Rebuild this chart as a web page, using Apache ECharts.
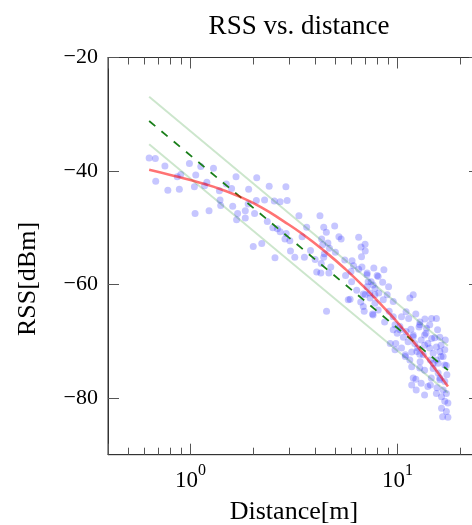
<!DOCTYPE html>
<html><head><meta charset="utf-8">
<script src="https://cdn.jsdelivr.net/npm/echarts@6/dist/echarts.min.js"></script>
<style>html,body{margin:0;padding:0;background:#fff}#c{width:472px;height:525px}</style>
</head><body><div id="c"></div>
<script>
// ---- data ----
const title = 'RSS vs. distance';
const xName = 'Distance[m]';
const yName = 'RSS[dBm]';
const xMin = 0.4, xMax = 25;
const yMin = -90, yMax = -20;
const yTicks = [-80, -60, -40, -20];
const xMinorTicks = [0.5, 0.6, 0.7, 0.8, 0.9, 2, 3, 4, 5, 6, 7, 8, 9, 20];

// measured samples
const distance = [
0.632,0.677,0.753,0.989,1.122,1.292,1.66,2.09,2.40,2.89,0.68,0.864,0.898,1.061,0.884,0.778,1.20,1.17,1.49,1.58,
1.91,1.045,1.053,1.23,1.38,1.39,1.40,1.60,1.69,1.84,2.04,1.67,1.84,2.08,2.28,1.90,2.35,2.01,2.21,2.54,
2.71,2.93,2.50,2.63,2.71,2.90,2.86,3.02,3.34,3.46,3.64,3.80,3.04,3.19,3.55,2.56,4.22,4.40,4.53,4.97,
4.30,4.35,4.61,4.69,5.21,5.34,5.01,4.43,4.40,4.00,4.28,4.07,4.26,4.66,4.76,5.56,6.03,6.49,6.66,6.97,
6.98,6.13,6.73,6.49,7.68,5.61,5.96,6.0,7.13,8.06,7.21,7.62,6.35,6.83,7.34,7.77,5.90,4.54,6.70,8.59,
7.97,7.12,7.45,8.47,9.05,7.12,7.78,6.97,8.12,8.91,7.37,8.53,6.64,7.78,9.53,6.90,7.57,8.06,9.11,9.53,
11.46,11.9,10.99,12.25,11.31,12.82,13.55,14.6,15.4,12.7,13.8,15.6,10.26,9.96,10.99,11.6,11.9,13.5,14.6,16.0,
10.67,8.66,9.72,10.26,12.8,9.22,9.8,10.45,11.24,12.1,13.0,14.0,15.4,16.2,14.85,16.0,9.72,11.46,12.85,14.4,
15.4,11.7,13.5,14.85,15.7,16.0,14.55,16.9,12.25,11.7,13.0,14.0,12.3,13.5,15.4,17.2,16.3,16.9,17.5,16.3,
17.2,16.5,17.5,5.78,6.83,7.62,10.45,9.53,10.9,12.8,16.6,14.85,11.9,16.0,11.9,13.7,14.3,12.4,15.7,16.2,
10.9,13.3,17.0,17.2,14.3,15.1,13.5,12.5,16.9,11.7,16.9,12.8,14.4,15.5,16.6,17.3
];
const rss = [
-37.7,-37.8,-39.1,-38.7,-39.2,-39.5,-41.0,-41.2,-42.7,-42.8,-41.8,-41.0,-40.6,-40.7,-43.2,-43.4,-42.0,-42.6,-42.3,-43.1,
-43.2,-42.8,-47.5,-47.0,-43.5,-45.1,-46.1,-46.2,-47.5,-47.0,-47.5,-48.6,-48.3,-45.2,-45.1,-45.8,-48.9,-53.3,-52.8,-45.3,
-45.4,-45.2,-50.0,-50.2,-50.7,-51.0,-52.0,-52.3,-47.9,-51.6,-49.9,-54.0,-54.1,-55.2,-55.2,-55.3,-47.9,-49.9,-50.8,-49.7,
-52.0,-53.0,-52.7,-53.6,-51.6,-52.0,-54.3,-54.6,-55.2,-55.6,-56.3,-57.8,-58.0,-58.0,-56.9,-55.7,-55.8,-51.7,-53.4,-52.9,
-54.1,-56.7,-56.9,-57.3,-57.1,-58.4,-57.7,-59.5,-58.0,-58.6,-59.5,-60.1,-61.0,-61.7,-61.5,-61.8,-62.6,-64.7,-55.1,-57.4,
-58.4,-58.3,-59.5,-59.6,-60.4,-60.4,-60.7,-61.8,-61.5,-61.8,-62.4,-62.7,-63.1,-63.3,-63.0,-64.7,-65.2,-64.5,-64.7,-65.7,
-62.4,-61.8,-64.8,-65.2,-66.0,-66.6,-66.1,-66.0,-66.0,-67.5,-67.7,-68.0,-67.4,-68.6,-68.3,-67.9,-69.2,-68.9,-69.5,-69.3,
-69.3,-66.6,-67.1,-68.0,-67.1,-70.4,-70.4,-71.2,-70.1,-70.4,-69.8,-70.4,-71.0,-70.7,-72.1,-71.8,-71.5,-73.3,-73.6,-73.3,
-73.3,-74.5,-75.1,-74.8,-75.6,-76.5,-76.5,-77.1,-76.7,-77.7,-77.4,-78.0,-78.6,-79.5,-79.2,-79.2,-79.8,-80.6,-80.9,-81.8,
-82.4,-83.3,-83.4,-62.7,-63.9,-65.4,-65.7,-68.0,-72.4,-72.3,-72.7,-73.9,-76.5,-76.8,-68.9,-68.6,-71.2,-71.8,-73.9,-72.7,
-72.7,-72.4,-69.8,-74.3,-67.1,-69.4,-70.7,-71.2,-71.5,-71.9,-74.2,-74.7,-77.7,-78.2,-78.6,-75.9
];

// fitted curve
const fitDist = [0.632, 0.8, 1.0, 1.3, 1.7, 2.2, 2.8, 3.5, 4.5, 5.6, 7.0, 8.5, 10, 12, 14, 16, 17.5];
const fitRss  = [-39.8, -40.7, -41.6, -42.8, -44.4, -46.4, -48.8, -51.2, -54.3, -57.3, -60.7, -63.9, -66.7, -70.2, -73.2, -76.0, -78.0];

// straight path-loss line and its band (end points)
const lineDist = [0.632, 17.5];
const meanRss  = [-31.2, -75.1];
const upperRss = [-26.9, -70.8];
const lowerRss = [-35.3, -79.1];

// ---- chart ----
const F = '"Liberation Serif", "DejaVu Serif", serif';
const zip = (a, b) => a.map((v, i) => [v, b[i]]);
const axisCol = '#333';
const tickCol = '#555';

const majorX = (pos) => ({
  type: 'log', logBase: 10, min: xMin, max: xMax, position: pos,
  axisLine: { show: true, onZero: false, lineStyle: { color: axisCol, width: 1 } },
  axisTick: { show: true, inside: true, length: 11, lineStyle: { color: tickCol, width: 1 } },
  axisLabel: pos === 'bottom' ? {
    show: true, margin: 8,
    formatter: v => {
      const l = Math.log10(v), e = Math.round(l);
      if (Math.abs(l - e) > 1e-6) return '';
      return '{b|10}{s|' + e + '}';
    },
    rich: {
      b: { fontFamily: F, fontSize: 23, color: '#000', verticalAlign: 'bottom', lineHeight: 30 },
      s: { fontFamily: F, fontSize: 16, color: '#000', verticalAlign: 'top', lineHeight: 16 }
    }
  } : { show: false },
  splitLine: { show: false },
  name: pos === 'bottom' ? xName : '',
  nameLocation: 'middle', nameGap: 44,
  nameTextStyle: { fontFamily: F, fontSize: 26, color: '#000' }
});
const minorX = (pos) => ({
  type: 'value', min: Math.log10(xMin), max: Math.log10(xMax), position: pos,
  axisLine: { show: false },
  axisTick: { show: true, inside: true, length: 7, customValues: xMinorTicks.map(Math.log10), lineStyle: { color: tickCol, width: 1 } },
  axisLabel: { show: false }, splitLine: { show: false }
});
const yAx = (pos) => ({
  type: 'value', min: yMin, max: yMax, position: pos,
  axisLine: { show: true, onZero: false, lineStyle: { color: axisCol, width: 1 } },
  axisTick: { show: true, inside: true, length: 11, customValues: yTicks, lineStyle: { color: tickCol, width: 1 } },
  axisLabel: pos === 'left' ? {
    show: true, customValues: yTicks, margin: 10, fontFamily: F, fontSize: 22, color: '#000',
    formatter: v => (v < 0 ? '\u2212' + (-v) : '' + v)
  } : { show: false },
  splitLine: { show: false }
});

const chart = echarts.init(document.getElementById('c'));
chart.setOption({
  animation: false,
  title: {
    text: title, left: 294, top: 8, textAlign: 'center',
    textStyle: { fontFamily: F, fontSize: 27, fontWeight: 'normal', color: '#000' }
  },
  grid: { left: 108, right: -8, top: 57.5, bottom: 70.3, containLabel: false, outerBoundsMode: 'none',
          show: true, borderColor: axisCol, borderWidth: 1, backgroundColor: 'transparent' },
  xAxis: [majorX('bottom'), minorX('bottom'), majorX('top'), minorX('top')],
  yAxis: [yAx('left'), yAx('right')],
  graphic: [{
    type: 'text', x: 28, y: 279, rotation: Math.PI / 2,
    style: { text: yName, font: '26px ' + F, fill: '#000', align: 'center', verticalAlign: 'middle' }
  }],
  series: [
    { type: 'line', data: zip(lineDist, upperRss), symbol: 'none',
      lineStyle: { color: 'rgba(0,128,0,0.2)', width: 2 } },
    { type: 'line', data: zip(lineDist, lowerRss), symbol: 'none',
      lineStyle: { color: 'rgba(0,128,0,0.2)', width: 2 } },
    { type: 'line', data: zip(lineDist, meanRss), symbol: 'none',
      lineStyle: { color: '#1a7f1a', width: 1.8, type: [8, 8] } },
    { type: 'scatter', data: zip(distance, rss), symbol: 'circle', symbolSize: 7,
      itemStyle: { color: 'rgba(0,0,255,0.28)' } },
    { type: 'line', data: zip(fitDist, fitRss), symbol: 'none', smooth: true,
      lineStyle: { color: 'rgba(255,0,0,0.55)', width: 2.6 } }
  ]
});
</script></body></html>
